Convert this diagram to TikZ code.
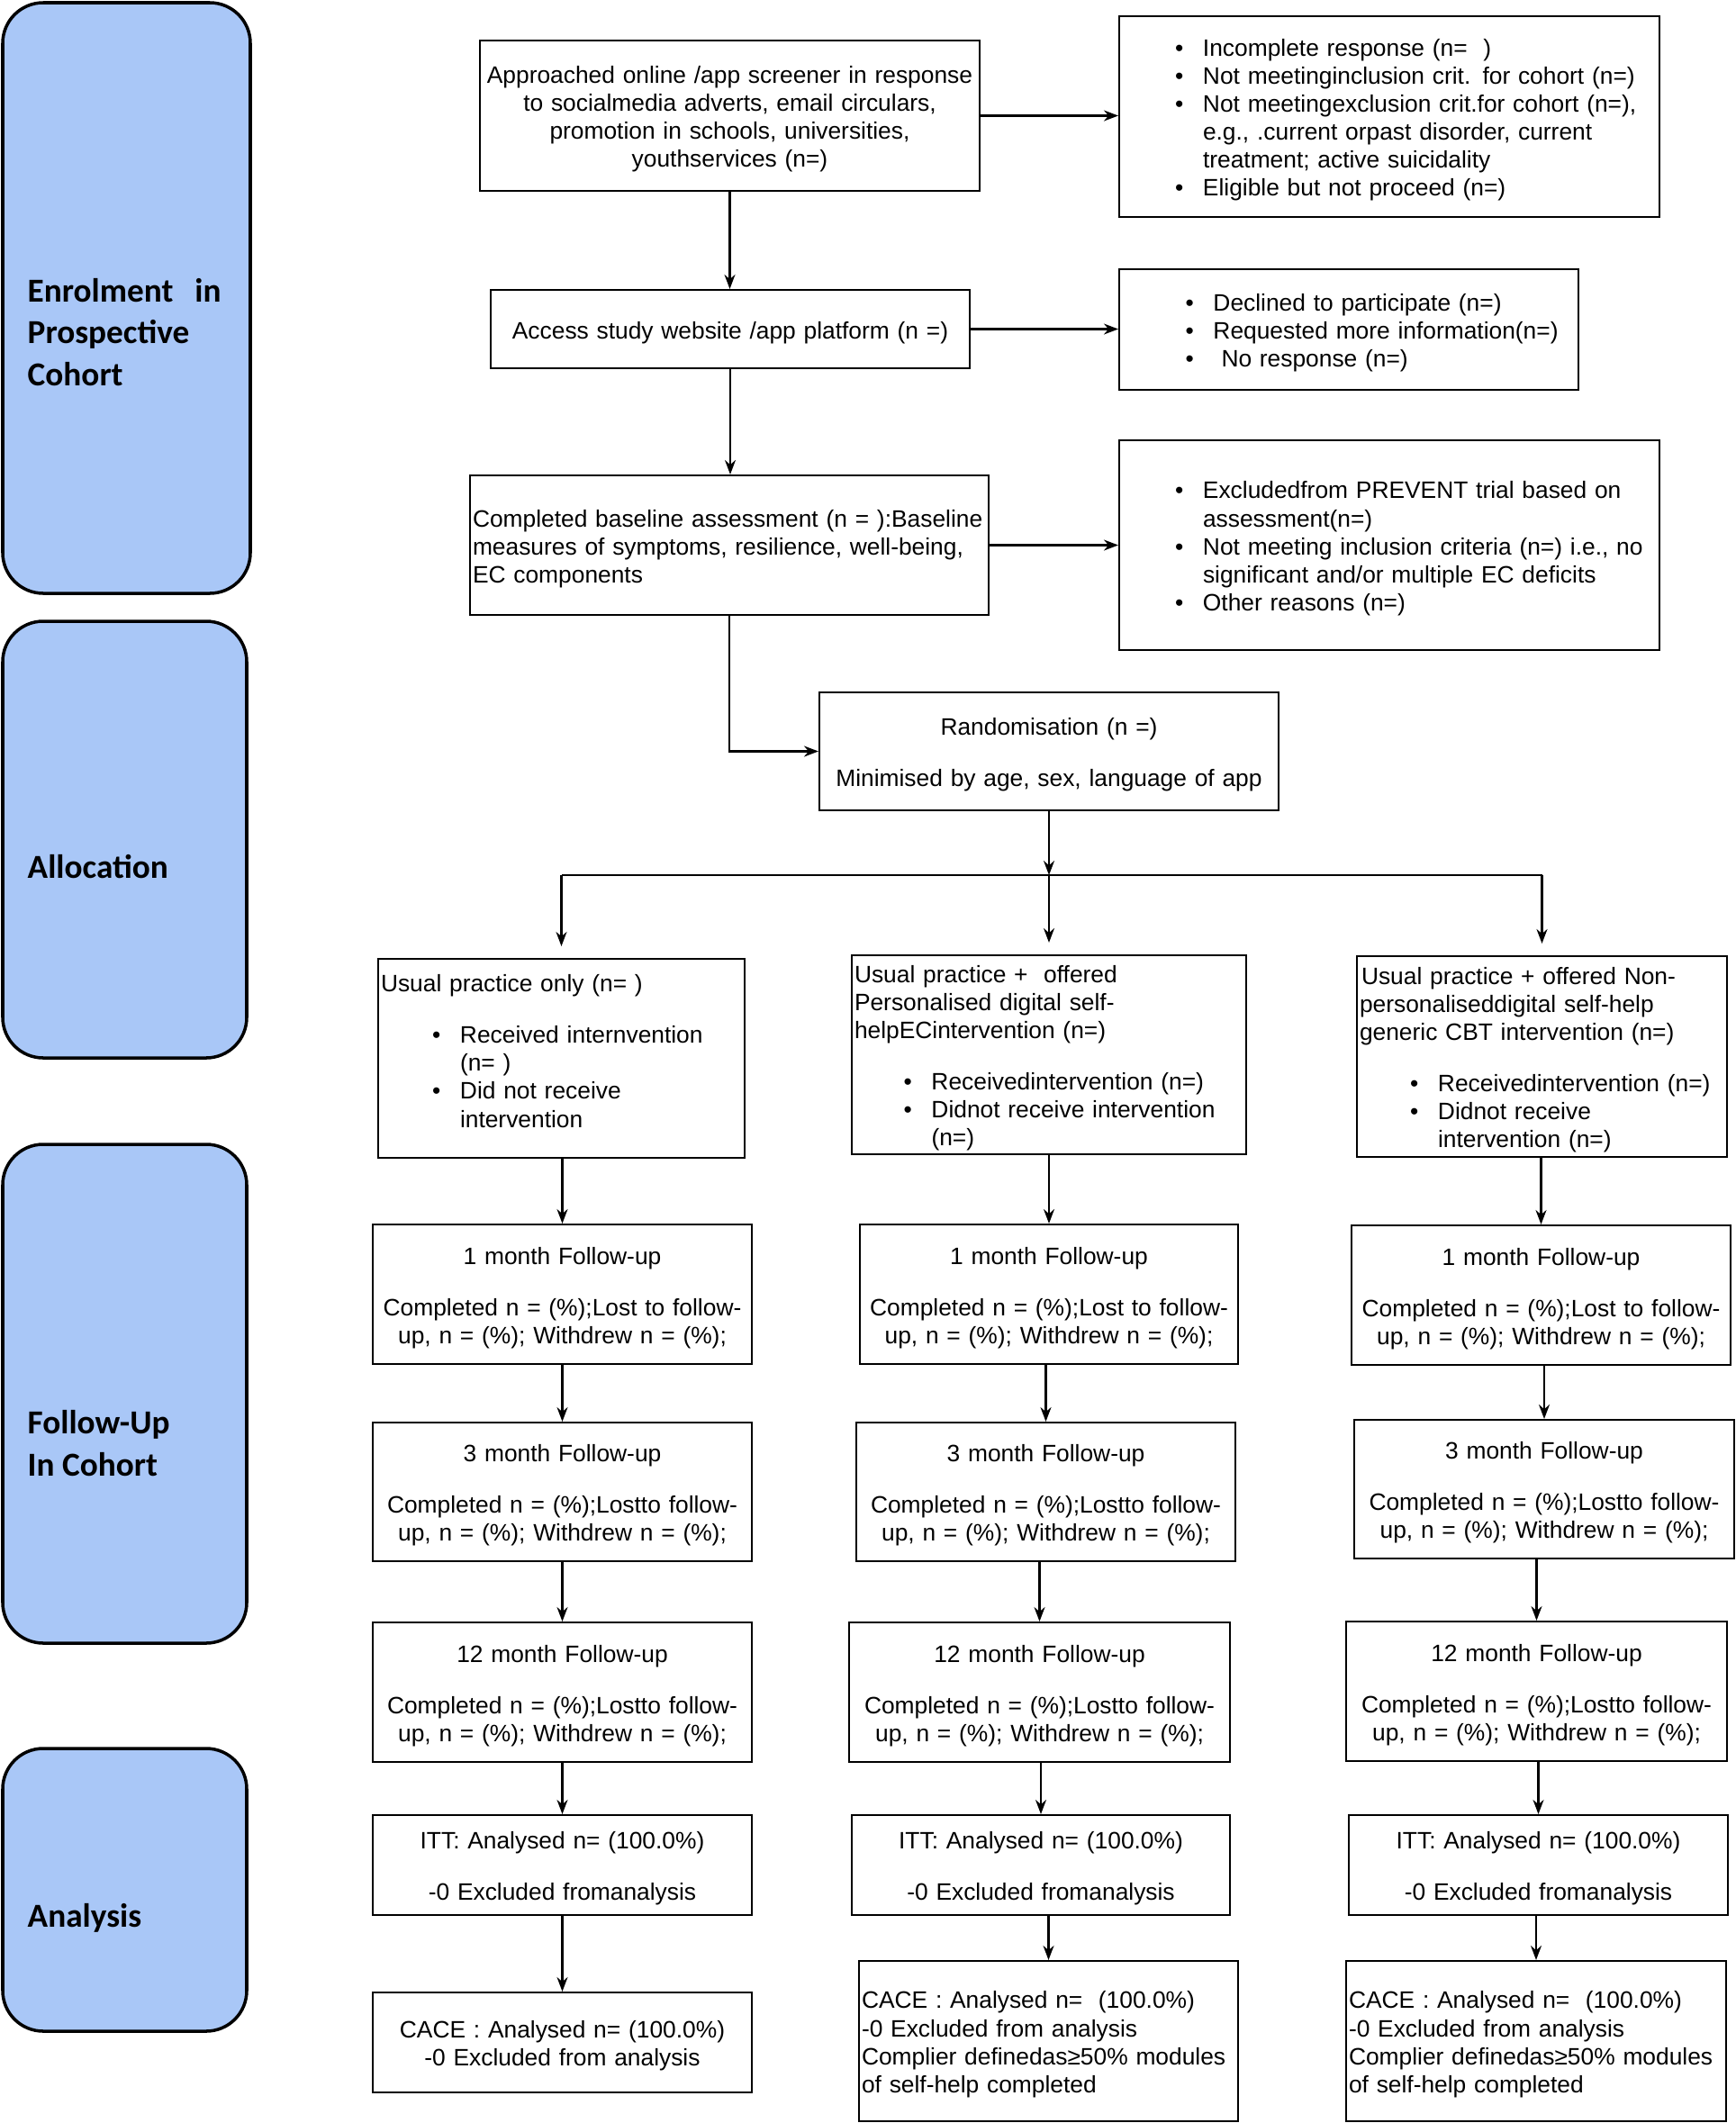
\documentclass[tikz,border=0pt]{standalone}
\usepackage{fontspec}
\setmainfont{Liberation Sans}
\newfontfamily\phasefont{Carlito}
\usetikzlibrary{arrows.meta}
\definecolor{phaseblue}{RGB}{169,199,247}
\newcommand\bul{\makebox[0.31cm][l]{\textbullet}}
\newcommand\bitem[2]{\hspace*{#1}\bul#2}
\newcommand\bcont[2]{\hspace*{#1}\hspace*{0.31cm}#2}

\begin{document}
\begin{tikzpicture}[
box/.style={draw, line width=0.6pt, inner ysep=0pt, font=\fontsize{7.5}{8.85}\selectfont,
  execute at begin node={\rule{0pt}{7.6pt}}},
cbox/.style={box, align=center, inner xsep=0.03cm},
lbox/.style={box, align=left, inner xsep=0.03cm},
phase/.style={draw, line width=1pt, rounded corners=0.45cm, fill=phaseblue},
plabel/.style={font=\phasefont\bfseries\fontsize{10.6}{13.2}\selectfont, align=left, anchor=west, inner sep=0pt},
arr/.style={line width=0.6pt, -{Stealth[length=0.16cm,width=0.12cm]}},
link/.style={line width=0.6pt}
]
\useasboundingbox (0,0) rectangle (19.27,-23.58);

\node[phase, minimum width=2.75cm, minimum height=6.56cm] (P1) at (1.405,-3.31) {};
\node[phase, minimum width=2.71cm, minimum height=4.85cm] (P2) at (1.385,-9.325) {};
\node[phase, minimum width=2.71cm, minimum height=5.54cm] (P3) at (1.385,-15.48) {};
\node[phase, minimum width=2.71cm, minimum height=3.14cm] (P4) at (1.385,-20.99) {};

\node[plabel] (L1) at (0.30,-3.69) {Enrolment\hspace{0.24cm}in\\Prospective\\Cohort};
\node[plabel] (L2) at (0.30,-9.63) {Allocation};
\node[plabel] (L3) at (0.30,-16.03) {Follow-Up\\In Cohort};
\node[plabel] (L4) at (0.30,-21.30) {Analysis};

\node[cbox, text width=5.49cm, minimum height=1.67cm] (A) at (8.105,-1.285) {Approached online /app screener in response\\
to socialmedia adverts, email circulars,\\
promotion in schools, universities,\\
youthservices (n=)};
\node[lbox, text width=5.94cm, minimum height=2.23cm] (R1) at (15.43,-1.295) {\bitem{0.59cm}{Incomplete response (n=\ \ )}\\
\bitem{0.59cm}{Not meetinginclusion crit. for cohort (n=)}\\
\bitem{0.59cm}{Not meetingexclusion crit.for cohort (n=),}\\
\bcont{0.59cm}{e.g., .current orpast disorder, current}\\
\bcont{0.59cm}{treatment; active suicidality}\\
\bitem{0.59cm}{Eligible but not proceed (n=)}};

\node[cbox, text width=5.26cm, minimum height=0.87cm] (B) at (8.11,-3.655) {Access study website /app platform (n =)};
\node[lbox, text width=5.04cm, minimum height=1.34cm] (R2) at (14.98,-3.66) {\bitem{0.705cm}{Declined to participate (n=)}\\
\bitem{0.705cm}{Requested more information(n=)}\\
\bitem{0.705cm}{\hspace*{0.09cm}No response (n=)}};

\node[lbox, text width=5.70cm, minimum height=1.55cm] (C) at (8.10,-6.055) {Completed baseline assessment (n = ):Baseline\\
measures of symptoms, resilience, well-being,\\
EC components};
\node[lbox, text width=5.94cm, minimum height=2.33cm] (R3) at (15.43,-6.055) {\bitem{0.59cm}{Excludedfrom PREVENT trial based on}\\
\bcont{0.59cm}{assessment(n=)}\\
\bitem{0.59cm}{Not meeting inclusion criteria (n=) i.e., no}\\
\bcont{0.59cm}{significant and/or multiple EC deficits}\\
\bitem{0.59cm}{Other reasons (n=)}};

\node[cbox, text width=5.04cm, minimum height=1.31cm] (D) at (11.65,-8.345) {Randomisation (n =)\\[0.26cm]
Minimised by age, sex, language of app};

\node[lbox, text width=4.01cm, minimum height=2.21cm] (E1) at (6.235,-11.755) {Usual practice only (n= )\\[0.26cm]
\bitem{0.57cm}{Received internvention}\\
\bcont{0.57cm}{(n= )}\\
\bitem{0.57cm}{Did not receive}\\
\bcont{0.57cm}{intervention}\\[-0.07cm]\mbox{}};
\node[lbox, text width=4.32cm, minimum height=2.21cm] (E2) at (11.65,-11.715) {Usual practice +\ \ offered\\
Personalised digital self-\\
helpECintervention (n=)\\[0.26cm]
\bitem{0.545cm}{Receivedintervention (n=)}\\
\bitem{0.545cm}{Didnot receive intervention}\\
\bcont{0.545cm}{(n=)}};
\node[lbox, text width=4.05cm, minimum height=2.23cm] (E3) at (17.125,-11.735) {\hspace*{0.02cm}Usual practice + offered Non-\\
personaliseddigital self-help\\
generic CBT intervention (n=)\\[0.26cm]
\bitem{0.56cm}{Receivedintervention (n=)}\\
\bitem{0.56cm}{Didnot receive}\\
\bcont{0.56cm}{intervention (n=)}};

\node[cbox, text width=4.15cm, minimum height=1.55cm] (F1) at (6.245,-14.375) {1 month Follow-up\\[0.26cm]
Completed n = (\%);Lost to follow-\\up, n = (\%); Withdrew n = (\%);};
\node[cbox, text width=4.14cm, minimum height=1.55cm] (F2) at (11.65,-14.375) {1 month Follow-up\\[0.26cm]
Completed n = (\%);Lost to follow-\\up, n = (\%); Withdrew n = (\%);};
\node[cbox, text width=4.15cm, minimum height=1.55cm] (F3) at (17.115,-14.385) {1 month Follow-up\\[0.26cm]
Completed n = (\%);Lost to follow-\\up, n = (\%); Withdrew n = (\%);};

\node[cbox, text width=4.15cm, minimum height=1.54cm] (G1) at (6.245,-16.57) {3 month Follow-up\\[0.26cm]
Completed n = (\%);Lostto follow-\\up, n = (\%); Withdrew n = (\%);};
\node[cbox, text width=4.15cm, minimum height=1.54cm] (G2) at (11.615,-16.57) {3 month Follow-up\\[0.26cm]
Completed n = (\%);Lostto follow-\\up, n = (\%); Withdrew n = (\%);};
\node[cbox, text width=4.16cm, minimum height=1.54cm] (G3) at (17.15,-16.54) {3 month Follow-up\\[0.26cm]
Completed n = (\%);Lostto follow-\\up, n = (\%); Withdrew n = (\%);};

\node[cbox, text width=4.15cm, minimum height=1.55cm] (H1) at (6.245,-18.795) {12 month Follow-up\\[0.26cm]
Completed n = (\%);Lostto follow-\\up, n = (\%); Withdrew n = (\%);};
\node[cbox, text width=4.17cm, minimum height=1.55cm] (H2) at (11.545,-18.795) {12 month Follow-up\\[0.26cm]
Completed n = (\%);Lostto follow-\\up, n = (\%); Withdrew n = (\%);};
\node[cbox, text width=4.17cm, minimum height=1.55cm] (H3) at (17.065,-18.785) {12 month Follow-up\\[0.26cm]
Completed n = (\%);Lostto follow-\\up, n = (\%); Withdrew n = (\%);};

\node[cbox, text width=4.15cm, minimum height=1.11cm] (I1) at (6.245,-20.715) {ITT: Analysed n= (100.0\%)\\[0.26cm]
-0 Excluded fromanalysis};
\node[cbox, text width=4.14cm, minimum height=1.11cm] (I2) at (11.56,-20.715) {ITT: Analysed n= (100.0\%)\\[0.26cm]
-0 Excluded fromanalysis};
\node[cbox, text width=4.15cm, minimum height=1.11cm] (I3) at (17.085,-20.715) {ITT: Analysed n= (100.0\%)\\[0.26cm]
-0 Excluded fromanalysis};

\node[cbox, text width=4.15cm, minimum height=1.11cm] (J1) at (6.245,-22.685) {CACE : Analysed n= (100.0\%)\\
-0 Excluded from analysis};
\node[lbox, text width=4.15cm, minimum height=1.78cm] (J2) at (11.645,-22.67) {CACE : Analysed n=\ \ (100.0\%)\\
-0 Excluded from analysis\\
Complier definedas≥50\% modules\\
of self-help completed};
\node[lbox, text width=4.16cm, minimum height=1.78cm] (J3) at (17.06,-22.67) {CACE : Analysed n=\ \ (100.0\%)\\
-0 Excluded from analysis\\
Complier definedas≥50\% modules\\
of self-help completed};

\draw[arr] (A.east) -- (A.east -| R1.west);
\draw[arr] (A.south) -- (A.south |- B.north);
\draw[arr] (B.east) -- (B.east -| R2.west);
\draw[arr] (B.south) -- (B.south |- C.north);
\draw[arr] (C.east) -- (C.east -| R3.west);
\draw[arr] (C.south) -- (C.south |- D.west) -- (D.west);

\coordinate (S) at (11.65,-9.72);
\draw[arr] (D.south) -- (S);
\draw[link] (S -| E1.north) -- (S -| E3.north);
\foreach \c in {1,2,3}
  \draw[arr, shorten >=0.13cm] (S -| E\c.north) -- (E\c.north);

\foreach \u/\l in {E/F,F/G,G/H,H/I,I/J}
  \foreach \c in {1,2,3}
    \draw[arr] (\l\c.north |- \u\c.south) -- (\l\c.north);
\end{tikzpicture}
\end{document}
